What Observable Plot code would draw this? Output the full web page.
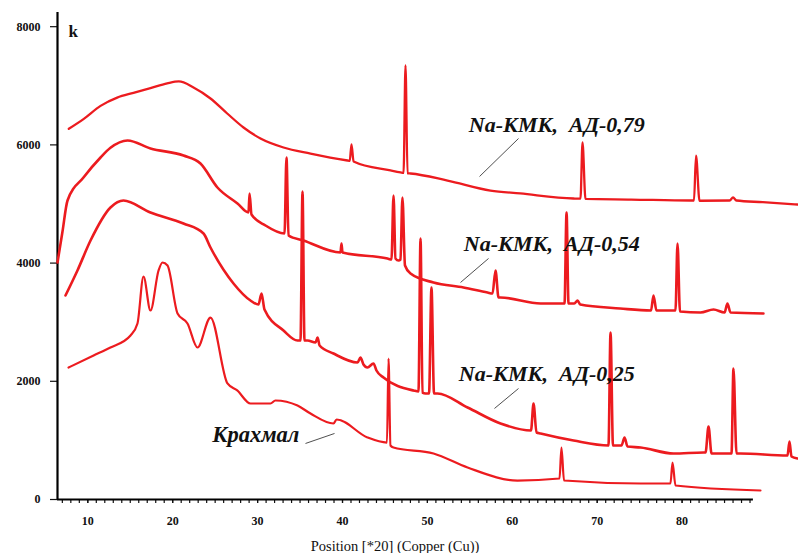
<!DOCTYPE html>
<html><head><meta charset="utf-8">
<script src="https://cdn.jsdelivr.net/npm/d3@7"></script>
<script src="https://cdn.jsdelivr.net/npm/@observablehq/plot@0.6"></script>
<style>body{margin:0;background:#fff}#chart svg{display:block}</style>
</head><body><div id="chart"></div>
<script>
// 2θ (degrees) and intensity (counts)
const ad079 = [[7.76,6272],[9.53,6440],[11.50,6660],[13.46,6800],[15.38,6880],[17.38,6960],[19.35,7040],[20.72,7073],[22.45,6971],[24.45,6785],[26.42,6531],[28.34,6294],[30.34,6108],[33.05,5956],[36.23,5854],[40.59,5736],[40.85,5730],[41.06,6007],[41.30,5720],[45.65,5567],[46.83,5533],[47.19,5525],[47.42,7343],[47.66,5520],[48.01,5516],[52.37,5397],[57.43,5228],[60.93,5178],[67.21,5093],[68.03,5090],[68.27,6040],[68.62,5085],[74.0,5075],[80.93,5059],[81.40,5059],[81.64,5820],[82.05,5055],[85.6,5059],[86.0,5110],[86.4,5059],[89.5,5030],[93.6,4991]];
const ad054 = [[6.43,4010],[7.0,4517],[7.61,5059],[9.49,5448],[11.50,5787],[12.67,5950],[14.68,6074],[17.38,5939],[21.27,5820],[23.27,5685],[25.27,5279],[27.63,5008],[28.93,4856],[29.05,5178],[29.28,4822],[30.93,4636],[33.17,4501],[33.40,5787],[33.64,4467],[35.40,4382],[39.76,4179],[39.88,4332],[40.0,4179],[45.3,4078],[45.77,4061],[46.01,5144],[46.24,4078],[46.6,4044],[46.83,4061],[47.06,5110],[47.36,3959],[48.01,3824],[50.72,3672],[54.25,3587],[57.08,3502],[57.67,3486],[58.02,3875],[58.38,3418],[58.61,3418],[63.33,3316],[66.15,3316],[66.39,4856],[66.62,3316],[67.3,3316],[67.69,3367],[68.0,3299],[72.7,3232],[76.34,3198],[76.63,3452],[76.98,3198],[79.22,3198],[79.46,4332],[79.75,3181],[82.17,3164],[83.70,3215],[85.0,3164],[85.34,3316],[85.7,3164],[89.58,3147]];
const ad025 = [[7.37,3452],[8.78,3875],[10.32,4382],[12.67,4941],[14.20,5059],[17.38,4856],[21.27,4670],[23.63,4501],[24.45,4264],[27.16,3655],[29.16,3367],[30.10,3299],[30.46,3486],[30.81,3215],[33.05,2859],[34.70,2690],[35.05,2690],[35.29,5211],[35.52,2690],[35.88,2690],[36.82,2656],[37.06,2741],[37.3,2606],[38.94,2470],[41.77,2318],[42.12,2403],[42.47,2284],[42.94,2233],[43.65,2301],[44.0,2183],[44.83,2064],[48.37,1844],[48.95,1827],[49.19,4416],[49.42,1810],[49.78,1794],[50.19,1794],[50.48,3587],[50.78,1794],[51.19,1794],[54.73,1557],[58.61,1286],[62.2,1167],[62.50,1624],[62.85,1134],[63.33,1117],[67.22,998],[71.33,914],[71.57,2826],[71.86,914],[72.86,914],[73.22,1049],[73.57,897],[75.11,880],[79.0,778],[82.52,795],[82.76,795],[83.11,1235],[83.47,778],[85.82,778],[86.05,2217],[86.41,778],[86.87,778],[92.41,744],[92.65,981],[92.88,728],[93.59,694]];
const starch = [[7.73,2233],[10.68,2436],[12.67,2572],[15.03,2775],[15.85,2978],[16.56,3773],[17.38,3198],[18.33,3875],[18.80,4010],[19.39,3959],[20.57,3147],[21.74,2978],[22.92,2572],[24.45,3079],[26.45,1963],[27.6,1845],[29.16,1624],[31.51,1624],[32.1,1675],[34.70,1590],[36.23,1455],[38.94,1286],[39.30,1354],[42.94,1049],[45.24,964],[45.42,2386],[45.65,914],[46.0,880],[50.72,778],[54.73,541],[60.61,321],[65.56,355],[65.79,880],[66.09,321],[75.11,271],[78.63,271],[78.87,626],[79.22,237],[89.23,152]];

const yTicks = [0, 2000, 4000, 6000, 8000];
const xTicks = [10, 20, 30, 40, 50, 60, 70, 80];
const xMinorTicks = d3.range(7, 89);
const seriesLabels = [
  {text: "Na-КМК,\u00a0\u00a0АД-0,79", x: 54.88, y: 6330, size: 22},
  {text: "Na-КМК,\u00a0\u00a0АД-0,54", x: 54.29, y: 4316, size: 22},
  {text: "Na-КМК,\u00a0\u00a0АД-0,25", x: 53.70, y: 2117, size: 22},
  {text: "Крахмал", x: 24.65, y: 1090, size: 22.5}
];
const leaders = [
  {x1: 60.73, y1: 6108, x2: 56.14, y2: 5465},
  {x1: 57.20, y1: 4078, x2: 53.90, y2: 3672},
  {x1: 60.73, y1: 1878, x2: 57.90, y2: 1540},
  {x1: 35.64, y1: 948, x2: 39.06, y2: 1117}
];
const unitLabel = [{text: "k", x: 7.73, y: 7925}];
const xTitle = [{text: "Position [*20] (Copper (Cu))", x: 46.19, y: -792}];
const xDomain = [6.43, 93.71];
const xAxisEnd = 88.4;
const yDomain = [0, 8240];

const serif = "'Liberation Serif', 'Times New Roman', serif";
const red = "#ec1b1f";

const chart = Plot.plot({
  width: 798, height: 553,
  marginLeft: 57, marginRight: 0, marginTop: 12, marginBottom: 54,
  style: {fontFamily: serif, background: "#fff", color: "#111"},
  x: {domain: xDomain},
  y: {domain: yDomain},
  marks: [
    Plot.axisX({ticks: xMinorTicks, tickSize: 4, tickFormat: () => "", label: null, strokeWidth: 1.2}),
    Plot.axisX({ticks: xTicks, tickSize: 4, tickPadding: 13, tickFormat: d => String(d), label: null,
      fontSize: 12, fontWeight: "bold", fontFamily: serif, strokeWidth: 1.2}),
    Plot.axisY({ticks: yTicks, tickSize: 7, tickPadding: 10, tickFormat: d => String(d), label: null,
      fontSize: 12, fontWeight: "bold", fontFamily: serif, strokeWidth: 1.2}),
    Plot.ruleX([xDomain[0]], {y1: yDomain[0], y2: yDomain[1], stroke: "#000", strokeWidth: 2.2}),
    Plot.ruleY([0], {x1: xDomain[0], x2: xAxisEnd, stroke: "#000", strokeWidth: 2.2}),
    Plot.line(starch, {x: d => d[0], y: d => d[1], stroke: red, strokeWidth: 2.2, curve: "monotone-x"}),
    Plot.line(ad025, {x: d => d[0], y: d => d[1], stroke: red, strokeWidth: 2.6, curve: "monotone-x"}),
    Plot.line(ad054, {x: d => d[0], y: d => d[1], stroke: red, strokeWidth: 2.6, curve: "monotone-x"}),
    Plot.line(ad079, {x: d => d[0], y: d => d[1], stroke: red, strokeWidth: 2.3, curve: "monotone-x"}),
    Plot.link(leaders, {x1: "x1", y1: "y1", x2: "x2", y2: "y2", stroke: "#222", strokeWidth: 0.8}),
    Plot.text(seriesLabels, {x: "x", y: "y", text: "text", textAnchor: "start", fontSize: d => d.size,
      fontWeight: "bold", fontStyle: "italic", fontFamily: serif, fill: "#111"}),
    Plot.text(unitLabel, {x: "x", y: "y", text: "text", textAnchor: "start", fontSize: 17,
      fontWeight: "bold", fontFamily: serif, fill: "#111"}),
    Plot.text(xTitle, {x: "x", y: "y", text: "text", fontSize: 14.5, fontFamily: serif, fill: "#111"})
  ]
});
document.getElementById("chart").append(chart);
</script>
</body></html>
